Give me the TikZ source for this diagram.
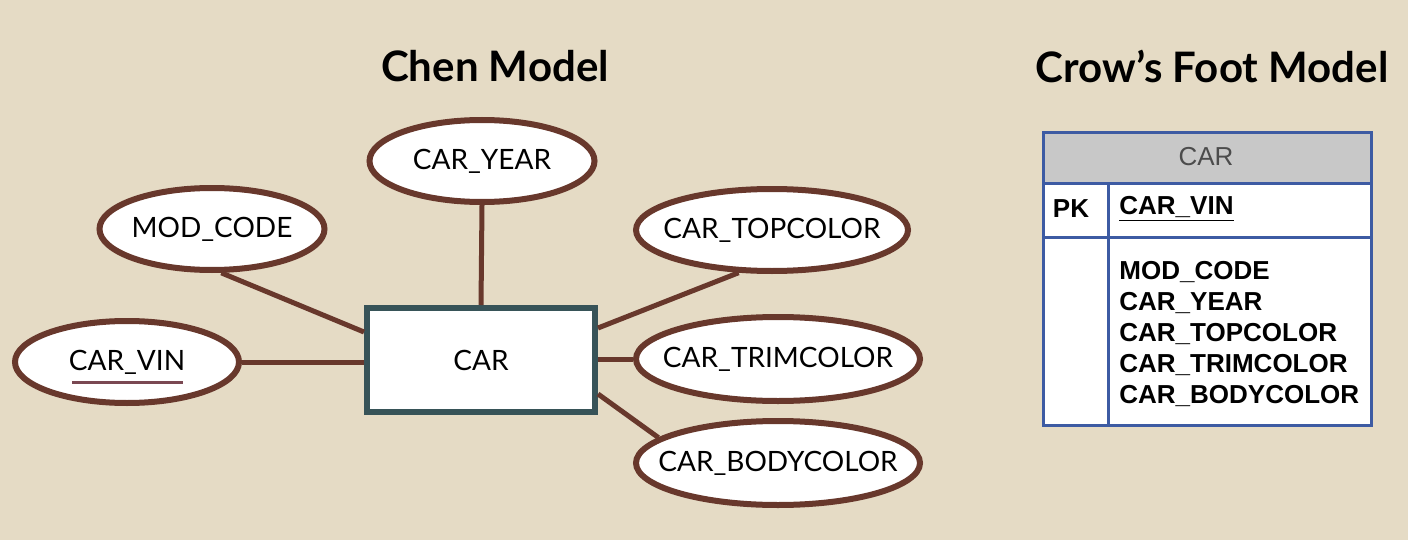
\documentclass[tikz,border=0pt]{standalone}
\usepackage{fontspec}
\setmainfont{Lato}
\newfontfamily\tablefont{Liberation Sans}
\usetikzlibrary{positioning,calc,shapes}

\definecolor{paper}{RGB}{229,219,197}
\definecolor{chenbrown}{RGB}{104,56,44}
\definecolor{entityteal}{RGB}{55,83,88}
\definecolor{tableblue}{RGB}{61,91,163}
\definecolor{headgray}{RGB}{200,200,200}
\definecolor{keyline}{RGB}{122,72,82}

\begin{document}
\begin{tikzpicture}
    [
    x=0.5pt, y=-0.5pt,
    title/.style={font=\fontsize{21}{25}\selectfont\bfseries},
    attr/.style={
      ellipse, draw=chenbrown, line width=3pt,
      fill=white, inner xsep=-25pt, inner ysep=0pt,
      minimum height=41pt,
      font=\fontsize{14}{16}\selectfont
    },
    entity/.style={
      rectangle, draw=entityteal, line width=3pt,
      fill=white, minimum width=114pt, minimum height=52pt,
      font=\fontsize{14}{16}\selectfont
    },
    link/.style={draw=chenbrown, line width=2.5pt},
    grid/.style={draw=tableblue, line width=1.5pt},
    field/.style={anchor=west, inner sep=0pt,
      font=\tablefont\bfseries\fontsize{13}{15}\selectfont}
    ]
    \useasboundingbox[fill=paper] (0,0) rectangle (1408,540);

    % Titles
    \node[title] (chentitle) at (495,66) {Chen Model};
    \node[title] (crowtitle) at (1212,66) {Crow’s Foot Model};

    % Chen model: entity and attributes
    \node[entity] (car) at (481,360) {CAR};
    \node[attr, minimum width=112.5pt] (year) at (482,161) {CAR\_YEAR};
    \node[attr, minimum width=112.5pt] (mod) at (212,229) {MOD\_CODE};
    \node[attr, minimum width=112pt] (vin) at (127,362) {CAR\_VIN};
    \node[attr, minimum width=136pt] (top) at (772,230) {CAR\_TOPCOLOR};
    \node[attr, minimum width=142pt, minimum height=42pt] (trim) at (778,359) {CAR\_TRIMCOLOR};
    \node[attr, minimum width=142pt, minimum height=42pt] (body) at (778,463) {CAR\_BODYCOLOR};

    % key underline
    \draw[keyline, line width=1.5pt] ([shift={(-27.5pt,-10pt)}]vin.center) -- ([shift={(28pt,-10pt)}]vin.center);

    % connectors
    \draw[link] (year.south) -- (car.north);
    \draw[link] (mod.-78) -- ([yshift=14pt]car.west);
    \draw[link] (vin.east) -- (vin.east -| car.west);
    \draw[link] (top.-128) -- ([yshift=16pt]car.east);
    \draw[link] (trim.west) -- (trim.west -| car.east);
    \draw[link] (body.168) -- ([yshift=-17pt]car.east);

    % Crow's foot table
    \fill[headgray] (1043,133) rectangle (1371,183);
    \fill[white] (1043,183) rectangle (1371,425);
    \draw[grid] (1043,133) rectangle (1371,425);
    \draw[grid] (1043,183) -- (1371,183);
    \draw[grid] (1043,237) -- (1371,237);
    \draw[grid] (1108,183) -- (1108,425);

    \node[font=\tablefont\fontsize{13}{15}\selectfont, text=black!70] (tabname) at (1206,157) {CAR};
    \node[field, anchor=center] (pk) at (1071,209) {PK};
    \node[field] (pkvin) at (1119,209) {\underline{CAR\_VIN}};
    \foreach \name [count=\i] in {MOD\_CODE, CAR\_YEAR, CAR\_TOPCOLOR, CAR\_TRIMCOLOR, CAR\_BODYCOLOR} {
      \node[field] (field\i) at (1119,241+31*\i) {\name};
    }
\end{tikzpicture}
\end{document}
